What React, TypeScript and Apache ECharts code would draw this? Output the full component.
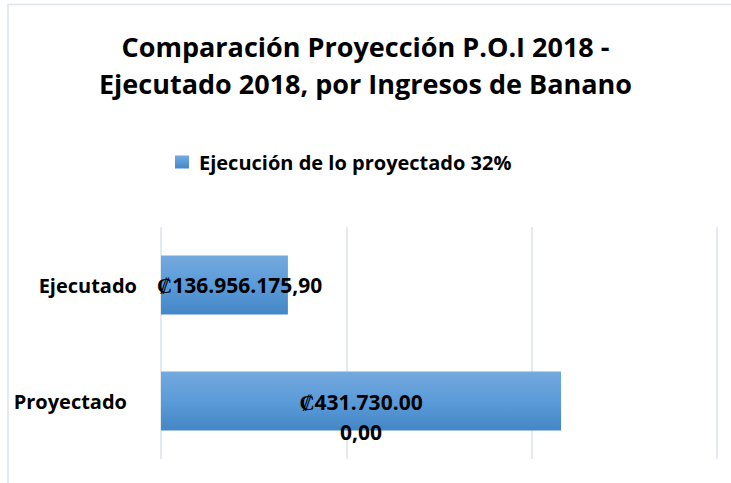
import React, { useEffect, useRef } from "react";
import * as echarts from "echarts";

const categories = ["Proyectado", "Ejecutado"];
const values = [431730000.0, 136956175.9];
const valueLabels = ["₡431.730.00\n0,00", "₡136.956.175,90"];
const seriesName = "Ejecución de lo proyectado 32%";
const titleText = "Comparación Proyección P.O.I 2018 -\nEjecutado 2018, por Ingresos de Banano";

const FONT = "Open Sans";

export default function App() {
  const ref = useRef<HTMLDivElement>(null);
  useEffect(() => {
    if (!ref.current) return;
    const chart = echarts.init(ref.current, null, { renderer: "svg" });
    const grad = new echarts.graphic.LinearGradient(0, 0, 0, 1, [
      { offset: 0, color: "#74a9de" },
      { offset: 0.5, color: "#5b9bd9" },
      { offset: 1, color: "#4586c6" },
    ]);
    chart.setOption({
      animation: false,
      backgroundColor: "#ffffff",
      title: {
        text: titleText,
        left: "center",
        top: 28,
        padding: 0,
        textStyle: {
          fontFamily: FONT,
          fontWeight: "bold",
          fontSize: 27,
          lineHeight: 37,
          color: "#000000",
        },
      },
      legend: {
        left: 175,
        top: 152,
        padding: 0,
        itemWidth: 14,
        itemHeight: 13,
        icon: "rect",
        data: [seriesName],
        textStyle: {
          fontFamily: FONT,
          fontWeight: "bold",
          fontSize: 20,
          color: "#000000",
          padding: [0, 0, 0, 5],
        },
      },
      grid: { left: 161, right: 14, top: 227, bottom: 24, containLabel: false, outerBoundsMode: "none" },
      xAxis: {
        type: "value",
        min: 0,
        max: 600000000,
        interval: 200000000,
        axisLabel: { show: false },
        axisLine: { show: false },
        axisTick: { show: false },
        splitLine: { lineStyle: { color: "#dde3ea", width: 1.5 } },
      },
      yAxis: {
        type: "category",
        data: categories,
        axisLine: { show: false },
        axisTick: { show: false },
        axisLabel: {
          margin: 24,
          fontFamily: FONT,
          fontWeight: "bold",
          fontSize: 20,
          color: "#000000",
          formatter: (v: string) => (v === "Proyectado" ? "{p|" + v + "}" : "{e|" + v + "}"),
          rich: {
            p: { fontFamily: FONT, fontWeight: "bold", fontSize: 20, color: "#000", padding: [0, 10, 0, 0] },
            e: { fontFamily: FONT, fontWeight: "bold", fontSize: 20, color: "#000" },
          },
        },
      },
      graphic: [
        { type: "line", shape: { x1: 8, y1: 4.5, x2: 731, y2: 4.5 }, style: { stroke: "#dde3ea", lineWidth: 1.5 } },
        { type: "line", shape: { x1: 8, y1: 4, x2: 8, y2: 483 }, style: { stroke: "#dde3ea", lineWidth: 1.5 } },
      ],
      series: [
        {
          name: seriesName,
          type: "bar",
          barWidth: 59,
          itemStyle: { color: grad },
          data: values.map((v, i) =>
            i === 0
              ? {
                  value: v,
                  label: {
                    show: true,
                    position: "inside",
                    offset: [0, 16],
                    formatter: valueLabels[i],
                    lineHeight: 30,
                  },
                }
              : {
                  value: v,
                  label: {
                    show: true,
                    position: [-4, "50%"],
                    align: "left",
                    verticalAlign: "middle",
                    formatter: valueLabels[i],
                  },
                }
          ),
          label: {
            fontFamily: FONT,
            fontWeight: "bold",
            fontSize: 21,
            color: "#000000",
          },
        },
      ],
    });
    return () => chart.dispose();
  }, []);
  return (
    <div
      ref={ref}
      style={{ position: "fixed", left: 0, top: 0, width: 731, height: 483 }}
    />
  );
}
